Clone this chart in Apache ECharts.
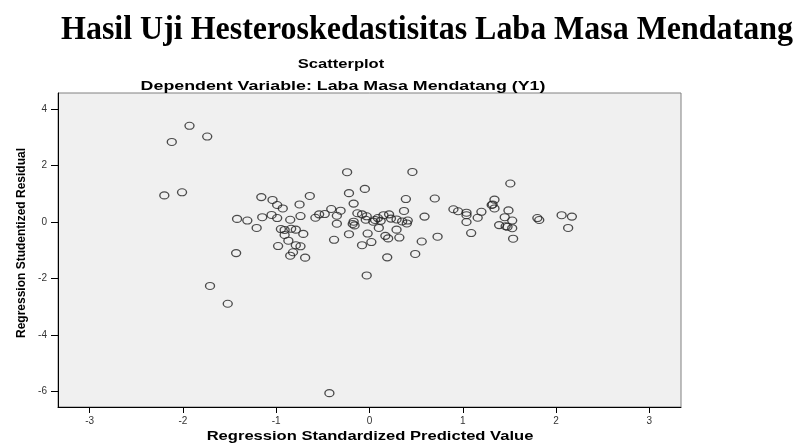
<!DOCTYPE html>
<html>
<head>
<meta charset="utf-8">
<script src="https://cdn.jsdelivr.net/npm/echarts@6/dist/echarts.min.js"></script>
<style>
  html, body { margin: 0; padding: 0; background: #fff; }
  #chart { width: 797px; height: 446px; }
</style>
</head>
<body>
<div id="chart"></div>
<script>
// Regression Standardized Predicted Value (x) and Studentized Residual (y)
var predicted = [
    -1.93, -2.12, -1.74, -2.20, -2.01, -1.71, -1.52, -0.43, -1.43, -1.42,
    -1.31, -1.21, -1.16, -1.04, -0.99, -0.93, -0.64, -0.75, -1.15, -1.05,
    -0.99, -0.85, -0.74, -0.95, -0.91, -0.84, -0.79, -0.91, -0.71, -0.87,
    -0.98, -0.79, -0.74, -0.82, -0.85, -0.69, -0.58, -0.54, -0.48, -0.41,
    -0.31, -0.35, -0.35, -0.24, -0.22, -0.05, -0.17, -0.13, -0.08, -0.03,
    -0.04, -0.17, -0.18, -0.16, -0.22, -0.38, -0.08, -0.02, -0.03, 0.04,
    0.06, 0.09, 0.15, 0.21, 0.23, 0.29, 0.35, 0.41, 0.40, 0.12,
    0.10, 0.29, 0.02, 0.17, 0.20, 0.32, 0.19, 0.46, 0.39, 0.70,
    0.37, 0.59, 0.90, 0.95, 1.04, 1.04, 1.20, 1.16, 1.04, 1.09,
    0.56, 0.73, 0.49, 1.34, 1.31, 1.34, 1.32, 1.51, 1.49, 1.45,
    1.53, 1.39, 1.46, 1.48, 1.53, 1.54, 1.80, 1.82, 2.06, 2.17,
    2.13
];
var residual = [
    3.40, 2.83, 3.02, 0.94, 1.05, -2.26, -2.89, -6.05, -1.10, 0.11,
    0.05, -0.21, 0.88, 0.78, 0.60, 0.48, 0.92, 0.62, 0.17, 0.25,
    0.14, 0.08, 0.21, -0.25, -0.28, -0.24, -0.27, -0.46, -0.42, -0.66,
    -0.85, -0.82, -0.86, -1.07, -1.19, -1.26, 0.15, 0.27, 0.28, 0.46,
    0.40, 0.22, -0.06, 1.76, 1.02, 1.17, 0.65, 0.31, 0.27, 0.20,
    0.08, 0.01, -0.07, -0.12, -0.43, -0.63, -0.82, -0.41, -1.89, 0.01,
    0.07, 0.14, 0.24, 0.27, 0.12, 0.09, 0.02, 0.05, -0.05, 0.04,
    -0.21, -0.27, -0.71, -0.49, -0.58, -0.55, -1.25, 1.77, 0.81, 0.83,
    0.39, 0.19, 0.45, 0.38, 0.33, 0.24, 0.36, 0.15, 0.00, -0.39,
    -0.69, -0.52, -1.13, 0.79, 0.60, 0.48, 0.62, 1.36, 0.41, 0.17,
    0.05, -0.11, -0.15, -0.17, -0.22, -0.59, 0.14, 0.07, 0.24, 0.19,
    -0.21
];
var xTicks = [-3, -2, -1, 0, 1, 2, 3];
var yTicks = [-6, -4, -2, 0, 2, 4];

var pageTitle = 'Hasil Uji Hesteroskedastisitas Laba Masa Mendatang';
var chartTitle = 'Scatterplot';
var chartSubtitle = 'Dependent Variable: Laba Masa Mendatang (Y1)';
var xName = 'Regression Standardized Predicted Value';
var yName = 'Regression Studentized Residual';

var points = [];
for (var i = 0; i < predicted.length; i++) {
    points.push([predicted[i], residual[i]]);
}

var chart = echarts.init(document.getElementById('chart'));

// the SPSS picture is stretched sideways, so horizontal texts get a scaleX
function label(text, x, y, font, sx, rot) {
    return {
        type: 'text',
        x: x,
        y: y,
        scaleX: sx,
        rotation: rot || 0,
        silent: true,
        style: {
            text: text,
            font: font,
            fill: '#000',
            align: 'center',
            verticalAlign: 'middle'
        }
    };
}

var option = {
    backgroundColor: '#fff',
    animation: false,
    grid: {
        left: 58,
        right: 116,
        top: 93,
        bottom: 39,
        show: true,
        backgroundColor: '#f0f0f0',
        borderColor: '#808080',
        borderWidth: 1,
        outerBoundsMode: 'none'
    },
    xAxis: {
        type: 'value',
        min: -3.34,
        max: 3.34,
        splitLine: { show: false },
        axisLine: { onZero: false, lineStyle: { color: '#000', width: 1 } },
        axisTick: { customValues: xTicks, length: 6, lineStyle: { color: '#000' } },
        axisLabel: {
            customValues: xTicks,
            margin: 9,
            color: '#333',
            fontFamily: 'Arial, "Liberation Sans", sans-serif',
            fontSize: 10
        }
    },
    yAxis: {
        type: 'value',
        min: -6.54,
        max: 4.56,
        splitLine: { show: false },
        axisLine: { onZero: false, lineStyle: { color: '#000', width: 1 } },
        axisTick: { customValues: yTicks, length: 7, lineStyle: { color: '#000' } },
        axisLabel: {
            customValues: yTicks,
            margin: 11,
            color: '#333',
            fontFamily: 'Arial, "Liberation Sans", sans-serif',
            fontSize: 10
        }
    },
    series: [{
        type: 'scatter',
        data: points,
        symbol: 'circle',
        symbolSize: [9, 7],
        itemStyle: {
            color: 'rgba(0,0,0,0)',
            borderColor: '#222',
            borderWidth: 1.2,
            opacity: 0.8
        }
    }],
    graphic: [
        label(pageTitle, 427, 30, 'bold 34px "Liberation Serif", "Times New Roman", serif', 0.94),
        label(chartTitle, 341, 65, 'bold 12px "Liberation Sans", Arial, sans-serif', 1.38),
        label(chartSubtitle, 343, 86, 'bold 13px "Liberation Sans", Arial, sans-serif', 1.37),
        label(xName, 370, 437, 'bold 12px "Liberation Sans", Arial, sans-serif', 1.38),
        label(yName, 22, 243, 'bold 12px "Liberation Sans", Arial, sans-serif', 1, Math.PI / 2)
    ]
};

chart.setOption(option);
</script>
</body>
</html>
